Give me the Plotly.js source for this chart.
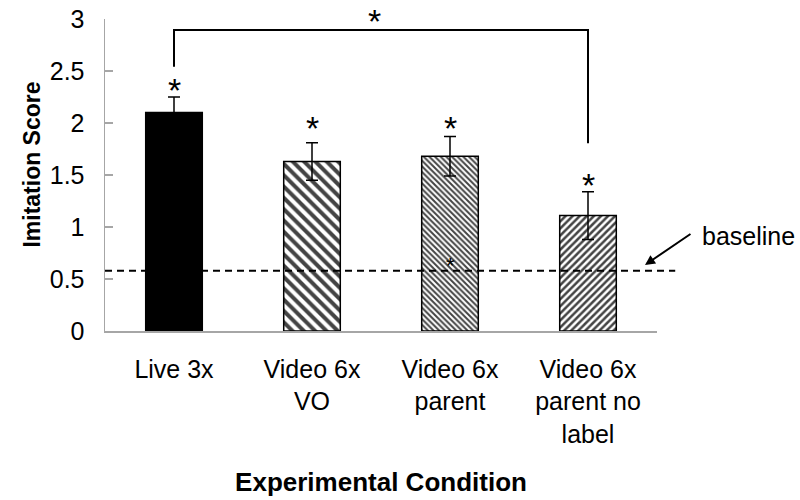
<!DOCTYPE html>
<html>
<head>
<meta charset="utf-8">
<script src="https://cdn.plot.ly/plotly-3.0.1.min.js"></script>
<style>html,body{margin:0;padding:0;background:#fff}#chart{width:800px;height:500px}</style>
</head>
<body>
<div id="chart"></div>
<script>
// ---- data ----
var categories = ["Live 3x", "Video 6x<br>VO", "Video 6x<br>parent", "Video 6x<br>parent no<br>label"];
var scores = [2.10, 1.63, 1.68, 1.11];
var errors = [0.15, 0.18, 0.19, 0.23];
var baseline = 0.58;
var yTicks = [0, 0.5, 1, 1.5, 2, 2.5, 3];

var FONT = "Liberation Sans, Arial, sans-serif";
var GRAY = "#a6a6a6";

var trace = {
  type: "bar",
  x: categories,
  y: scores,
  error_y: {type: "data", array: errors, visible: true, color: "#000", thickness: 1.5, width: 6},
  marker: {
    color: ["#000", "#fff", "#fff", "#fff"],
    line: {color: "#000", width: 1.5},
    pattern: {
      shape: ["", "\\", "\\", "/"],
      size: [8, 8, 4, 5],
      solidity: [0.5, 0.5, 0.5, 0.5],
      fgcolor: "#000",
      fgopacity: 1,
      fillmode: "overlay"
    }
  },
  hoverinfo: "skip"
};

// significance stars above each bar
var starShift = [-14, -6, -12, -14];
var annotations = categories.map(function (c, i) {
  return {x: c, y: scores[i] + errors[i], xref: "x", yref: "y", text: "*", showarrow: false,
          yanchor: "bottom", yshift: starShift[i], font: {family: FONT, size: 34, color: "#000"}};
});
// bracket star
annotations.push({x: 1.45, y: 2.894, xref: "x", yref: "y", text: "*", showarrow: false,
  yanchor: "bottom", yshift: -12, font: {family: FONT, size: 34, color: "#000"}});
// faint star inside third bar
annotations.push({x: categories[2], y: baseline, xref: "x", yref: "y", text: "*", showarrow: false,
  yanchor: "bottom", yshift: -9, font: {family: FONT, size: 22, color: "#000"}});
// baseline arrow and label
annotations.push({x: 3.413, y: baseline + 0.055, xref: "x", yref: "y", text: "", showarrow: true,
  arrowhead: 2, arrowsize: 1, arrowwidth: 2, arrowcolor: "#000", ax: 47, ay: -32});
annotations.push({x: 1.078, y: (331 - 236) / 312, xref: "paper", yref: "paper", text: "baseline", showarrow: false,
  xanchor: "left", yanchor: "middle", font: {family: FONT, size: 25, color: "#000"}});
// y-axis title
annotations.push({x: -0.133, y: 0.532, xref: "paper", yref: "paper", text: "<b>Imitation Score</b>",
  showarrow: false, textangle: -90, xanchor: "center", yanchor: "middle",
  font: {family: FONT, size: 23, color: "#000"}});

var shapes = [
  {type: "line", xref: "paper", yref: "y", x0: 0, x1: 1.033, y0: baseline, y1: baseline,
   line: {color: "#000", width: 2, dash: "7px,5px"}},
  {type: "path", xref: "x", yref: "y",
   path: "M 0 2.54 L 0 2.894 L 3 2.894 L 3 1.805",
   line: {color: "#000", width: 2}}
];

var layout = {
  width: 800, height: 500,
  margin: {l: 105, r: 143, t: 19, b: 169},
  paper_bgcolor: "#fff", plot_bgcolor: "#fff",
  showlegend: false,
  bargap: 0.59,
  font: {family: FONT, color: "#000"},
  xaxis: {
    type: "category", range: [-0.5, 3.5], fixedrange: true,
    showline: true, linecolor: GRAY, linewidth: 1.5, ticks: "", showgrid: false, zeroline: false,
    tickfont: {family: FONT, size: 25, color: "#000"},
    ticklabelstandoff: 15,
    title: {text: "<b>Experimental Condition</b>", font: {family: FONT, size: 26, color: "#000"}, standoff: 26}
  },
  yaxis: {
    range: [0, 3], fixedrange: true, tickvals: yTicks, ticktext: yTicks.map(String),
    showline: true, linecolor: GRAY, linewidth: 1.5, ticks: "inside", ticklen: 8, tickcolor: GRAY, tickwidth: 1.5,
    showgrid: false, zeroline: false,
    tickfont: {family: FONT, size: 25, color: "#000"},
    ticklabelstandoff: 14
  },
  annotations: annotations,
  shapes: shapes
};

Plotly.newPlot("chart", [trace], layout, {displayModeBar: false, staticPlot: true});
</script>
</body>
</html>
